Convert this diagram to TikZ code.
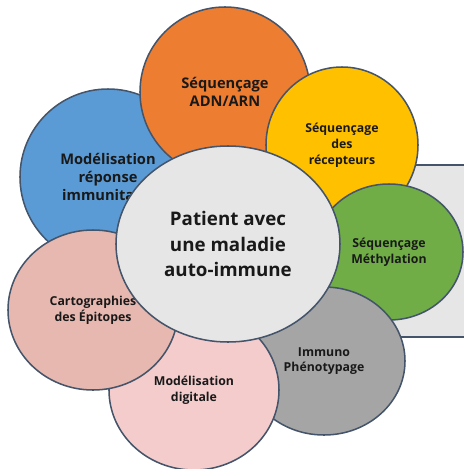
\documentclass[tikz,border=0pt]{standalone}
\usepackage{fontspec}
\setmainfont{Open Sans}
\usepackage{xcolor}
\usetikzlibrary{shapes.geometric}

\definecolor{edgeblue}{HTML}{44546A}
\definecolor{petalorange}{HTML}{ED7D31}
\definecolor{petalyellow}{HTML}{FFC000}
\definecolor{petalgreen}{HTML}{70AD47}
\definecolor{petalblue}{HTML}{5B9BD5}
\definecolor{petalgray}{HTML}{A5A5A5}
\definecolor{petalpink}{HTML}{F4CCCC}
\definecolor{petalrose}{HTML}{E6B8AF}
\definecolor{hubgray}{HTML}{E6E6E6}

\begin{document}
\begin{tikzpicture}[x=0.03cm, y=-0.03cm,
    petal/.style={ellipse, draw=edgeblue, line width=1.3pt, inner sep=0pt,
                  align=center, text=black!90, font=\bfseries\fontsize{10.5}{13.5}\selectfont},
    bigpetal/.style={petal, font=\bfseries\fontsize{12.5}{15.5}\selectfont},
    hub/.style={petal, fill=hubgray, font=\bfseries\fontsize{16}{22}\selectfont}]
    \useasboundingbox (0,0) rectangle (463,469);

    % grey panel behind the right petals
    \draw[draw=edgeblue, line width=2.5pt, fill=hubgray] (300,165) rectangle (475,337);

    \node[bigpetal, fill=petalblue, minimum width=5.28cm, minimum height=5.28cm] (model) at (108,177) {Modélisation\\réponse\\immunitaire};
    \node[bigpetal, fill=petalorange, minimum width=5.1cm, minimum height=5.1cm] (adn) at (225,92) {Séquençage\\ADN/ARN};
    \node[petal, fill=petalyellow, minimum width=4.56cm, minimum height=4.68cm] (recep) at (342,145) {Séquençage\\des\\récepteurs};
    \node[petal, fill=petalgreen, minimum width=4.44cm, minimum height=4.08cm] (methyl) at (389,252) {Séquençage\\Méthylation};
    \node[petal, fill=petalgray, minimum width=4.86cm, minimum height=4.44cm] (pheno) at (324,361) {Immuno\\Phénotypage};
    \node[petal, fill=petalpink, minimum width=5.1cm, minimum height=4.8cm] (digit) at (194,390) {Modélisation\\digitale};
    \node[petal, fill=petalrose, minimum width=5.1cm, minimum height=4.8cm] (epi) at (93,310) {Cartographies\\des Épitopes};

    \node[hub, minimum width=6.72cm, minimum height=5.88cm] (patient) at (228,244) {Patient avec\\une maladie\\auto-immune};
\end{tikzpicture}
\end{document}
